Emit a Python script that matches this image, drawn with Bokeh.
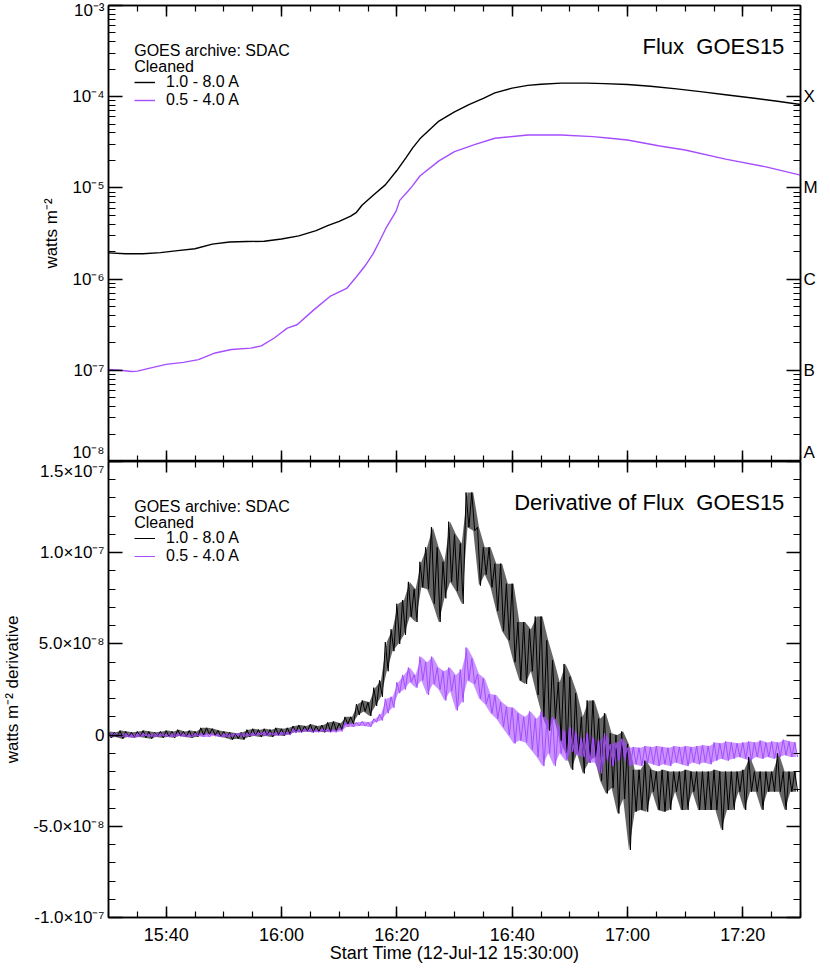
from bokeh.plotting import figure
from bokeh.models import (Range1d, FixedTicker, LinearAxis, LogAxis, Label,
                          Legend, LegendItem)
from bokeh.layouts import column
from bokeh.embed import file_html
from bokeh.resources import INLINE

FONT = "Liberation Sans"
PURPLE = "#a64dff"
BLACK = "#000000"

# ---------------- data (time in minutes after 12-Jul-12 15:30:00) -------------
tick_minutes = [10, 30, 50, 70, 90, 110]
tick_labels = ["15:40", "16:00", "16:20", "16:40", "17:00", "17:20"]

# GOES15 1.0-8.0 A flux (W m^-2)
long_t = [0, 3, 6, 9, 12, 15, 18, 21, 24, 27,
          30, 33, 36, 38, 40, 42, 43, 44, 46, 48,
          50, 51.6, 52.75, 54, 57.3, 60, 62.5, 65, 67, 70,
          72.7, 75, 78.5, 83, 86, 90, 94, 98.5, 103, 107,
          112, 116, 120]
long_flux = [1.94e-6, 1.90e-6, 1.90e-6, 1.95e-6, 2.05e-6, 2.15e-6, 2.42e-6, 2.55e-6, 2.58e-6, 2.6e-6,
             2.75e-6, 2.98e-6, 3.4e-6, 3.85e-6, 4.3e-6, 4.9e-6, 5.4e-6, 6.5e-6, 8.4e-6, 1.08e-5,
             1.55e-5, 2.15e-5, 2.75e-5, 3.45e-5, 5.4e-5, 6.8e-5, 8.2e-5, 9.6e-5, 1.1e-4, 1.24e-4,
             1.33e-4, 1.37e-4, 1.41e-4, 1.41e-4, 1.39e-4, 1.36e-4, 1.30e-4, 1.22e-4, 1.13e-4, 1.05e-4,
             9.6e-5, 8.9e-5, 8.2e-5]

# GOES15 0.5-4.0 A flux (W m^-2)
short_t = [0, 2, 4, 5, 7, 10, 13, 15.6, 18.5, 21.3,
           24.7, 26.5, 28.75, 30, 31, 32.7, 35.6, 38.4, 41.3, 43,
           44.5, 45.9, 47, 48.2, 49.9, 50.5, 52, 52.75, 54, 57.3,
           60, 63.6, 67, 72.7, 78.5, 84, 87, 90, 95.6, 100,
           107, 114, 120]
short_flux = [1.02e-7, 1.0e-7, 9.7e-8, 9.8e-8, 1.05e-7, 1.16e-7, 1.22e-7, 1.31e-7, 1.55e-7, 1.69e-7,
              1.75e-7, 1.85e-7, 2.26e-7, 2.6e-7, 2.9e-7, 3.16e-7, 4.6e-7, 6.45e-7, 7.9e-7, 1.06e-6,
              1.4e-6, 1.9e-6, 2.6e-6, 3.7e-6, 5.6e-6, 7.3e-6, 9.3e-6, 1.06e-5, 1.35e-5, 1.98e-5,
              2.5e-5, 3.0e-5, 3.5e-5, 3.8e-5, 3.8e-5, 3.65e-5, 3.5e-5, 3.35e-5, 2.88e-5, 2.6e-5,
              2.07e-5, 1.7e-5, 1.38e-5]

# Derivative: per-minute upper / lower extent of the noisy trace (units of 1e-8 W m^-2 s^-1)
deriv_minutes = list(range(120))
long_hi = [0.2, 0.15, 0.25, 0.2, 0.15, 0.2, 0.25, 0.2, 0.15, 0.2, 0.25, 0.2, 0.3, 0.2, 0.25, 0.2,
           0.4, 0.4, 0.35, 0.25, 0.2, 0.15, 0.1, 0.15,
           0.3, 0.35, 0.3, 0.35, 0.3, 0.4, 0.35, 0.4,
           0.5, 0.55, 0.5, 0.6, 0.5, 0.55, 0.7, 0.75, 0.65, 1.0, 1.0,
           1.7, 1.9, 1.8, 2.6, 3.0,
           5.1, 5.8, 7.2, 7.4, 8.4, 8.0, 9.5, 10.3, 11.4, 10.3, 9.5, 11.7,
           11.0, 10.5, 13.3, 13.3, 11.4, 10.3, 10.3, 9.4, 9.4, 8.3, 8.3, 6.2,
           6.2, 5.8, 6.5, 6.5, 5.2, 4.1, 2.9, 3.9, 3.2, 2.3, 1.0, 1.9,
           1.9, 0.9, 1.2, 0.1, 0.0, 0.2, -0.5, -1.9, -1.9, -1.4, -1.9, -2.0,
           -1.9, -2.0, -2.0, -2.0, -1.9, -2.0, -2.0, -2.0, -2.0, -1.9, -2.0, -2.0,
           -2.0, -2.0, -1.9, -1.2, -2.0, -2.0, -2.0, -2.0, -1.0, -2.0, -2.0, -2.0]
long_lo = [-0.15, -0.1, -0.2, -0.1, -0.15, -0.1, -0.15, -0.2, -0.1, -0.15, -0.1, -0.15, -0.05, -0.1, -0.15, -0.1,
           0.0, 0.05, 0.0, -0.1, -0.15, -0.25, -0.2, -0.25,
           -0.1, -0.05, -0.1, -0.05, -0.1, 0.0, -0.05, 0.05,
           0.15, 0.15, 0.2, 0.15, 0.2, 0.15, 0.2, 0.25, 0.3, 0.6, 0.6,
           1.1, 1.3, 1.05, 1.6, 2.1,
           3.5, 4.6, 5.0, 5.5, 6.5, 6.2, 8.1, 8.0, 7.2, 6.2, 7.5, 8.4,
           7.9, 7.2, 11.4, 11.2, 8.2, 8.8, 8.1, 6.8, 5.7, 5.2, 4.0, 3.0,
           2.8, 3.5, 2.2, 1.0, 0.25, 0.9, -0.3, -1.0, -1.9, -1.0, -2.1, -1.5,
           -1.2, -2.5, -3.2, -2.9, -4.3, -3.5, -6.3, -4.2, -4.1, -4.2, -3.1, -4.1,
           -4.2, -4.1, -3.1, -4.1, -4.1, -3.1, -4.1, -4.1, -4.1, -4.1, -5.2, -4.1,
           -4.1, -3.1, -4.1, -3.1, -3.1, -4.1, -3.1, -3.1, -3.1, -4.1, -3.1, -3.1]
short_hi = [0.1, 0.1, 0.05, 0.1, 0.05, 0.1, 0.1, 0.05, 0.1, 0.1, 0.05, 0.1, 0.1, 0.1, 0.05, 0.1,
            0.1, 0.1, 0.1, 0.05, 0.1, 0.05, 0.1, 0.1, 0.1,
            0.15, 0.15, 0.2, 0.15, 0.15, 0.2, 0.15,
            0.35, 0.3, 0.35, 0.35, 0.3, 0.35, 0.35, 0.3, 0.4,
            0.7, 0.65, 0.7, 0.75, 0.7, 0.9, 1.15,
            2.0, 2.1, 2.9, 3.3, 3.7, 3.3, 4.3, 4.0, 4.3, 3.7, 3.5, 3.7,
            3.3, 3.6, 4.8, 4.2, 3.35, 3.1, 2.25, 2.2, 1.8, 1.55, 1.5, 1.2,
            1.0, 1.3, 0.9, 1.3, 0.8, 1.0, 0.45, 0.2, 0.45, 0.1, -0.2, 0.1,
            -0.2, -0.3, 0.1, -0.5, -0.4, -0.2, -0.7, -0.65, -0.7, -0.6, -0.65, -0.6,
            -0.65, -0.7, -0.6, -0.65, -0.6, -0.65, -0.6, -0.55, -0.6, -0.4, -0.45, -0.35,
            -0.4, -0.45, -0.4, -0.35, -0.4, -0.3, -0.4, -0.35, -0.4, -0.25, -0.35, -0.4]
short_lo = [-0.1, -0.05, -0.1, -0.1, -0.15, -0.1, -0.05, -0.1, -0.1, -0.05, -0.1, -0.1, -0.05, -0.1, -0.1, -0.05,
            -0.1, -0.1, -0.05, -0.1, -0.1, -0.1, -0.05, -0.1, -0.05,
            -0.05, 0.0, -0.05, 0.0, -0.05, 0.0, 0.0,
            0.15, 0.15, 0.2, 0.15, 0.15, 0.2, 0.15, 0.15, 0.2,
            0.45, 0.45, 0.5, 0.5, 0.45, 0.7, 0.8,
            1.2, 1.5, 2.3, 2.5, 2.9, 2.6, 3.0, 2.2, 2.8, 2.5, 1.9, 2.4,
            1.35, 1.8, 3.0, 2.8, 2.0, 1.7, 1.2, 0.9, 0.45, 0.0, -0.46, -0.3,
            -0.4, -0.8, -1.2, -1.7, -1.0, -1.7, -1.0, -1.4, -0.9, -1.1, -1.2, -1.5,
            -1.5, -2.1, -1.3, -1.7, -1.4, -1.2, -1.7, -1.6, -1.7, -1.5, -1.6, -1.7,
            -1.6, -1.7, -1.5, -1.6, -1.7, -1.5, -1.6, -1.5, -1.6, -1.4, -1.3, -1.4,
            -1.3, -1.2, -1.3, -1.4, -1.2, -1.3, -1.2, -1.3, -1.2, -1.1, -1.2, -1.2]
DERIV_UNIT = 1e-8

flux_ticks = [1e-8, 1e-7, 1e-6, 1e-5, 1e-4, 1e-3]
flux_tick_labels = ["10\u207b\u2078", "10\u207b\u2077", "10\u207b\u2076",
                    "10\u207b\u2075", "10\u207b\u2074", "10\u207b\u00b3"]
class_ticks = [1e-8, 1e-7, 1e-6, 1e-5, 1e-4]
goes_class = ["A", "B", "C", "M", "X"]
deriv_ticks = [-1e-7, -5e-8, 0, 5e-8, 1e-7, 1.5e-7]
deriv_tick_labels = ["-1.0\u00d710\u207b\u2077", "-5.0\u00d710\u207b\u2078", "0",
                     "5.0\u00d710\u207b\u2078", "1.0\u00d710\u207b\u2077", "1.5\u00d710\u207b\u2077"]
series_labels = ["1.0 - 8.0 A", "0.5 - 4.0 A"]
header_lines = ["GOES archive: SDAC", "Cleaned"]

# ---------------- layout constants ----------------
FW, FH = 692, 456
LEFT, RIGHT = 101, 24
x_minor = list(range(0, 121, 5))
flux_minor = [k * 10.0 ** d for d in range(-8, -3) for k in range(2, 10)]
deriv_minor = [k * 1e-8 for k in range(-10, 16)]


def zigzag(hi, lo):
    xs, ys = [], []
    for m, h, l in zip(deriv_minutes, hi, lo):
        xs += [m, m + 0.5]
        ys += [h * DERIV_UNIT, l * DERIV_UNIT]
    return xs, ys


def style_axis(ax, major_in, minor_in, show_labels=True, size="17px"):
    ax.axis_line_color = "black"
    ax.axis_line_width = 1.5
    ax.major_tick_in = major_in
    ax.major_tick_out = 0
    ax.minor_tick_in = minor_in
    ax.minor_tick_out = 0
    ax.major_tick_line_color = "black"
    ax.minor_tick_line_color = "black"
    ax.major_tick_line_width = 1.5
    ax.minor_tick_line_width = 1.2
    ax.major_label_text_font = FONT
    ax.axis_label_text_font = FONT
    ax.axis_label_text_font_style = "normal"
    ax.axis_label_text_color = "black"
    if show_labels:
        ax.major_label_text_color = "black"
        ax.major_label_text_font_size = size
        ax.major_label_standoff = 4
    else:
        ax.major_label_text_color = None
        ax.major_label_text_alpha = 0
        ax.major_label_text_font_size = "1px"
        ax.major_label_standoff = 0


def base_fig(**kw):
    p = figure(frame_width=FW, frame_height=FH, output_backend="svg",
               toolbar_location=None, min_border_left=LEFT, min_border_right=RIGHT,
               background_fill_color="white", border_fill_color="white", **kw)
    p.grid.visible = False
    p.outline_line_color = "black"
    p.outline_line_width = 1.5
    return p


x_range = Range1d(0, 120)
x_ticker = FixedTicker(ticks=tick_minutes, minor_ticks=x_minor)

# ---------------- top panel: flux ----------------
p1 = base_fig(x_range=x_range, y_range=Range1d(1e-8, 1e-3), y_axis_type="log",
              min_border_top=5, min_border_bottom=0)
flux_ticker = FixedTicker(ticks=flux_ticks, minor_ticks=flux_minor)
p1.yaxis[0].ticker = flux_ticker
p1.yaxis[0].major_label_overrides = dict(zip(flux_ticks, flux_tick_labels))
p1.yaxis[0].axis_label = "watts m\u207b\u00b2"
p1.yaxis[0].axis_label_text_font_size = "17px"
p1.yaxis[0].axis_label_standoff = 8
style_axis(p1.yaxis[0], 14, 7)
p1.xaxis[0].ticker = x_ticker
style_axis(p1.xaxis[0], 11, 6, show_labels=False)
top_ax = LinearAxis(ticker=x_ticker)
style_axis(top_ax, 11, 6, show_labels=False)
p1.add_layout(top_ax, "above")
class_ticker = FixedTicker(ticks=class_ticks, minor_ticks=flux_minor)
right_ax = LogAxis(ticker=class_ticker,
                   major_label_overrides=dict(zip(class_ticks, goes_class)))
style_axis(right_ax, 14, 7, size="17px")
right_ax.major_label_standoff = 3
p1.add_layout(right_ax, "right")

r1 = p1.line(long_t, long_flux, line_color=BLACK, line_width=1.4)
r2 = p1.line(short_t, short_flux, line_color=PURPLE, line_width=1.4)


def flux_y(px):  # px below the frame top in the reference (459 px = 5 decades)
    return 10 ** (-3 - 5 * px / 459.0)


def deriv_y(px):
    return 1.5e-7 - 2.5e-7 * px / 459.0


def add_texts(p, yfun, title):
    for txt, px in zip(header_lines, [45, 61.5]):
        p.add_layout(Label(x=4.46, y=yfun(px), text=txt, text_font=FONT,
                           text_font_size="16px", text_baseline="middle",
                           text_color="black"))
    p.add_layout(Label(x=117.2, y=yfun(41), text=title, text_font=FONT,
                       text_font_size="22px", text_baseline="middle",
                       text_align="right", text_color="black"))


def add_legend(p, rends):
    leg = Legend(items=[LegendItem(label=s, renderers=[r]) for s, r in zip(series_labels, rends)],
                 location=(26, FH - 104), border_line_color=None, background_fill_alpha=0,
                 label_text_font=FONT, label_text_font_size="16px", label_text_color="black",
                 glyph_width=21, glyph_height=16, label_height=16, label_standoff=11,
                 padding=0, spacing=0, margin=0)
    p.add_layout(leg)


add_texts(p1, flux_y, "Flux\u00a0 GOES15")
add_legend(p1, [r1, r2])

# ---------------- bottom panel: derivative ----------------
p2 = base_fig(x_range=x_range, y_range=Range1d(-1e-7, 1.5e-7),
              min_border_top=0, min_border_bottom=0)
deriv_ticker = FixedTicker(ticks=deriv_ticks, minor_ticks=deriv_minor)
p2.yaxis[0].ticker = deriv_ticker
p2.yaxis[0].major_label_overrides = dict(zip(deriv_ticks, deriv_tick_labels))
p2.yaxis[0].axis_label = "watts m\u207b\u00b2 derivative"
p2.yaxis[0].axis_label_text_font_size = "17px"
p2.yaxis[0].axis_label_standoff = 8
style_axis(p2.yaxis[0], 14, 7)
p2.xaxis[0].ticker = x_ticker
p2.xaxis[0].major_label_overrides = dict(zip(tick_minutes, tick_labels))
p2.xaxis[0].axis_label = "Start Time (12-Jul-12 15:30:00)"
p2.xaxis[0].axis_label_text_font_size = "18px"
p2.xaxis[0].axis_label_standoff = -5
style_axis(p2.xaxis[0], 11, 6, size="18px")
p2.xaxis[0].major_label_standoff = 7
top_ax2 = LinearAxis(ticker=x_ticker)
style_axis(top_ax2, 11, 6, show_labels=False)
p2.add_layout(top_ax2, "above")
right_ax2 = LinearAxis(ticker=deriv_ticker)
style_axis(right_ax2, 14, 7, show_labels=False)
p2.add_layout(right_ax2, "right")

band_x = [m + 0.25 for m in deriv_minutes]
p2.varea(x=band_x, y1=[v * DERIV_UNIT for v in long_lo], y2=[v * DERIV_UNIT for v in long_hi],
         fill_color=BLACK, fill_alpha=0.6)
p2.varea(x=band_x, y1=[v * DERIV_UNIT for v in short_lo], y2=[v * DERIV_UNIT for v in short_hi],
         fill_color=PURPLE, fill_alpha=0.6)
lx, ly = zigzag(long_hi, long_lo)
sx, sy = zigzag(short_hi, short_lo)
d1 = p2.line(lx, ly, line_color=BLACK, line_width=1.0)
d2 = p2.line(sx, sy, line_color=PURPLE, line_width=1.0)

add_texts(p2, deriv_y, "Derivative of Flux\u00a0 GOES15")
add_legend(p2, [d1, d2])

layout = column(p1, p2, spacing=0)
open("out.html", "w").write(file_html(layout, INLINE))
